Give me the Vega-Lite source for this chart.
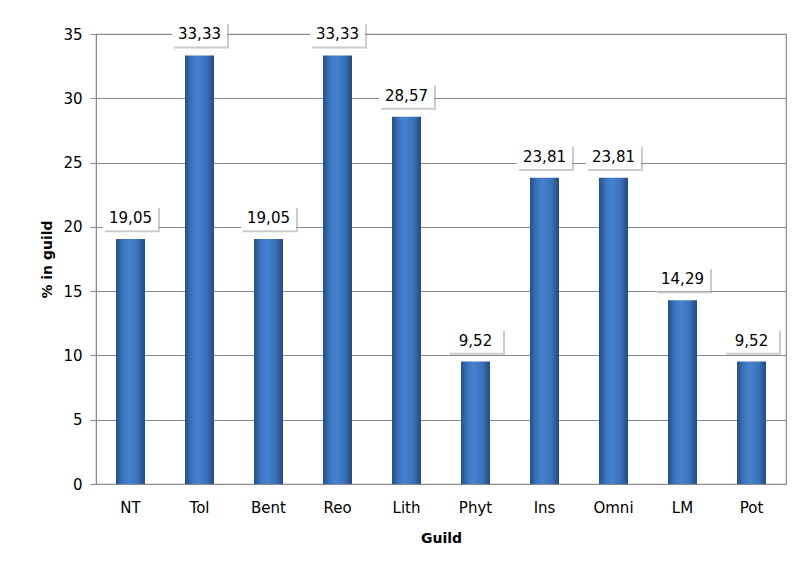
{
  "$schema": "https://vega.github.io/schema/vega-lite/v6.json",
  "width": 690,
  "height": 450,
  "autosize": {"type": "none"},
  "padding": {"left": 96, "top": 34, "right": 9, "bottom": 81},
  "background": "white",
  "config": {
    "locale": {"number": {"decimal": ",", "thousands": ".", "grouping": [3], "currency": ["", "€"]}},
    "view": {"stroke": "#8a8a8a", "strokeWidth": 1.2},
    "font": "DejaVu Sans",
    "axis": {"labelFont": "DejaVu Sans", "titleFont": "DejaVu Sans", "labelColor": "#000", "titleColor": "#000", "domainColor": "#8a8a8a", "tickColor": "#8a8a8a", "gridColor": "#8a8a8a", "gridOpacity": 1}
  },
  "data": {"values": [
    {"guild": "NT", "pct": 19.05},
    {"guild": "Tol", "pct": 33.33},
    {"guild": "Bent", "pct": 19.05},
    {"guild": "Reo", "pct": 33.33},
    {"guild": "Lith", "pct": 28.57},
    {"guild": "Phyt", "pct": 9.52},
    {"guild": "Ins", "pct": 23.81},
    {"guild": "Omni", "pct": 23.81},
    {"guild": "LM", "pct": 14.29},
    {"guild": "Pot", "pct": 9.52}
  ]},
  "encoding": {
    "x": {"field": "guild", "type": "nominal", "sort": null,
      "scale": {"paddingInner": 0.58, "paddingOuter": 0.29},
      "axis": {"title": "Guild", "labelAngle": 0, "labelFontSize": 15, "labelPadding": 16, "ticks": false, "titleFontSize": 14, "titleFontWeight": "bold", "titlePadding": 16}}
  },
  "layer": [
    {
      "mark": {"type": "bar", "color": {"gradient": "linear", "x1": 0, "x2": 1, "y1": 0, "y2": 0,
        "stops": [{"offset": 0, "color": "#244f86"}, {"offset": 0.25, "color": "#3d77c2"}, {"offset": 0.45, "color": "#4682cf"}, {"offset": 0.75, "color": "#3a71b9"}, {"offset": 1, "color": "#224a80"}]}},
      "encoding": {
        "y": {"field": "pct", "type": "quantitative",
          "scale": {"domain": [0, 35], "nice": false},
          "axis": {"title": "% in guild", "values": [0, 5, 10, 15, 20, 25, 30, 35], "labelFontSize": 15, "labelPadding": 8, "tickSize": 6, "titleFontSize": 14, "titleFontWeight": "bold", "titlePadding": 8}}
      }
    },
    {
      "mark": {"type": "point", "shape": "M-1,-0.44H1V0.44H-1Z", "size": 3025, "filled": true, "color": "#9a9a9a", "opacity": 0.5, "yOffset": -19, "xOffset": 2},
      "encoding": {"y": {"field": "pct", "type": "quantitative"}}
    },
    {
      "mark": {"type": "point", "shape": "M-1,-0.44H1V0.44H-1Z", "size": 3025, "filled": true, "color": "white", "opacity": 1, "yOffset": -21},
      "encoding": {"y": {"field": "pct", "type": "quantitative"}}
    },
    {
      "mark": {"type": "text", "fontSize": 15, "color": "#000", "yOffset": -21, "baseline": "middle"},
      "encoding": {"y": {"field": "pct", "type": "quantitative"}, "text": {"field": "pct", "type": "quantitative", "format": ".2f"}}
    }
  ]
}
